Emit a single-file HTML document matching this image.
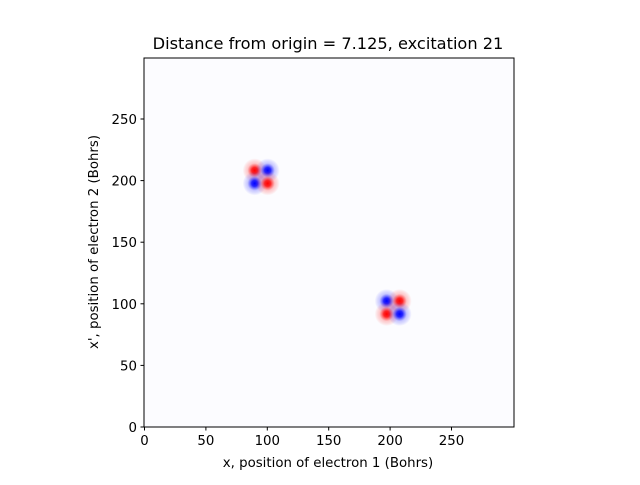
<!DOCTYPE html>
<html><head><meta charset="utf-8"><style>
body{margin:0;background:#fff;}
svg text{font-family:"DejaVu Sans","Liberation Sans",sans-serif;fill:#000;}
</style></head><body>
<svg width="640" height="480" viewBox="0 0 640 480">
<defs>
<radialGradient id="gr"><stop offset="0" stop-color="#ff0000" stop-opacity="1"/><stop offset="0.25" stop-color="#ff0000" stop-opacity="0.85"/><stop offset="0.6" stop-color="#ff3030" stop-opacity="0.25"/><stop offset="1" stop-color="#ff0000" stop-opacity="0"/></radialGradient>
<radialGradient id="gb"><stop offset="0" stop-color="#0000ff" stop-opacity="1"/><stop offset="0.25" stop-color="#0000ff" stop-opacity="0.85"/><stop offset="0.6" stop-color="#3030ff" stop-opacity="0.25"/><stop offset="1" stop-color="#0000ff" stop-opacity="0"/></radialGradient>
<clipPath id="clip"><rect x="144" y="58" width="370" height="369"/></clipPath>
</defs>
<text x="328" y="49" font-size="16.2" text-anchor="middle">Distance from origin = 7.125, excitation 21</text>
<rect x="144" y="58" width="370" height="369" fill="#fcfcff"/>
<g id="marks" clip-path="url(#clip)"></g>
<rect x="144" y="58" width="370" height="369" fill="none" stroke="#000" stroke-width="1"/>
<g id="ticks"></g>
<text x="328" y="467" font-size="13.33" text-anchor="middle">x, position of electron 1 (Bohrs)</text>
<text x="0" y="0" font-size="13.33" text-anchor="middle" transform="translate(98,242) rotate(-90)">x', position of electron 2 (Bohrs)</text>
</svg>
<script>
const blobX=[95,202.5];
const blobY=[203,97];
const blobSigns=[[1,-1,-1,1],[-1,1,1,-1]];
const lobeOffset=5.3;
const xTicks=[0,50,100,150,200,250];
const yTicks=[0,50,100,150,200,250];
const NS='http://www.w3.org/2000/svg';
const xs=v=>144.5+v*1.228;
const ys=v=>427-v*1.232;
const marks=document.getElementById('marks');
blobX.forEach((bx,i)=>{
  const offs=[[-1,1],[1,1],[-1,-1],[1,-1]];
  offs.forEach((o,j)=>{
    const c=document.createElementNS(NS,'circle');
    c.setAttribute('cx',xs(bx+o[0]*lobeOffset));
    c.setAttribute('cy',ys(blobY[i]+o[1]*lobeOffset));
    c.setAttribute('r',12);
    c.setAttribute('fill',blobSigns[i][j]>0?'url(#gr)':'url(#gb)');
    
    
    marks.appendChild(c);
  });
});
const tg=document.getElementById('ticks');
xTicks.forEach(t=>{
  const l=document.createElementNS(NS,'line');
  l.setAttribute('x1',xs(t));l.setAttribute('x2',xs(t));l.setAttribute('y1',427);l.setAttribute('y2',430.5);l.setAttribute('stroke','#000');
  
  
  tg.appendChild(l);
  const tx=document.createElementNS(NS,'text');
  tx.setAttribute('x',xs(t));tx.setAttribute('y',445);tx.setAttribute('font-size','13.33');tx.setAttribute('text-anchor','middle');tx.textContent=t;
  
  
  tg.appendChild(tx);
});
yTicks.forEach(t=>{
  const l=document.createElementNS(NS,'line');
  l.setAttribute('x1',140.5);l.setAttribute('x2',144);l.setAttribute('y1',ys(t));l.setAttribute('y2',ys(t));l.setAttribute('stroke','#000');
  
  
  tg.appendChild(l);
  const tx=document.createElementNS(NS,'text');
  tx.setAttribute('x',137);tx.setAttribute('y',ys(t)+5);tx.setAttribute('font-size','13.33');tx.setAttribute('text-anchor','end');tx.textContent=t;
  
  
  tg.appendChild(tx);
});
</script>
</body></html>
